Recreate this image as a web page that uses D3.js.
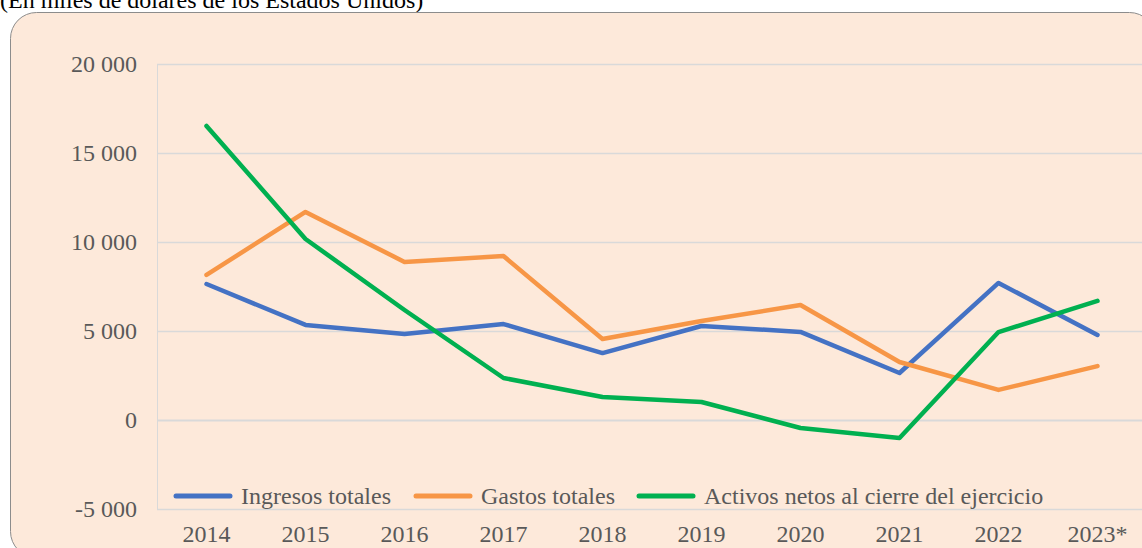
<!DOCTYPE html>
<html>
<head>
<meta charset="utf-8">
<script src="https://cdn.jsdelivr.net/npm/d3@7"></script>
<style>
  body { margin: 0; background: #fff; }
  text { font-family: "Liberation Serif", "Times New Roman", serif; fill: #595959; }
</style>
</head>
<body>
<div id="chart"></div>
<script>
// chart data
var years = ["2014", "2015", "2016", "2017", "2018", "2019", "2020", "2021", "2022", "2023*"];
var ingresos = [7640, 5340, 4830, 5390, 3760, 5280, 4950, 2640, 7700, 4780];
var gastos = [8150, 11690, 8880, 9210, 4550, 5560, 6460, 3260, 1690, 3030];
var activos = [16520, 10170, 6180, 2360, 1290, 1010, -450, -1010, 4940, 6690];
var yTicks = [-5000, 0, 5000, 10000, 15000, 20000];
var seriesNames = ["Ingresos totales", "Gastos totales", "Activos netos al cierre del ejercicio"];
var colors = ["#4472C4", "#F79646", "#00B050"];

var svgWidth = 1142;
var svgHeight = 548;

var svg = d3.select("#chart")
    .append("svg")
    .attr("width", svgWidth)
    .attr("height", svgHeight);

// title, mostly cut off at the top
svg.append("text")
    .attr("x", 0)
    .attr("y", 8)
    .style("font-size", "24px")
    .style("fill", "#000")
    .text("(En miles de dólares de los Estados Unidos)");

// rounded panel
svg.append("rect")
    .attr("x", 10.5)
    .attr("y", 12.5)
    .attr("width", 1145)
    .attr("height", 545)
    .attr("rx", 26)
    .attr("fill", "#FDE9DA")
    .attr("stroke", "#8C8C8C")
    .attr("stroke-width", 1);

// plot area
var plot = { left: 157, right: 1147, top: 64, bottom: 509 };

var xScale = d3.scaleBand()
    .domain(years)
    .range([plot.left, plot.right]);

var yScale = d3.scaleLinear()
    .domain([-5000, 20000])
    .range([plot.bottom, plot.top]);

// "20 000", "-5 000"
var fmt = function(d) {
    return d3.format(",")(d).replace(/,/g, " ").replace("\u2212", "-");
};

// gridlines
svg.append("g")
    .selectAll("line")
    .data(yTicks)
    .enter()
    .append("line")
    .attr("x1", plot.left)
    .attr("x2", plot.right)
    .attr("y1", d => Math.round(yScale(d)) + 0.5)
    .attr("y2", d => Math.round(yScale(d)) + 0.5)
    .attr("stroke", "#D9D9D9")
    .attr("stroke-width", d => d === 0 ? 2 : 1.3);

// left edge of plot area
svg.append("line")
    .attr("x1", plot.left + 0.5)
    .attr("x2", plot.left + 0.5)
    .attr("y1", plot.top)
    .attr("y2", plot.bottom)
    .attr("stroke", "#D9D9D9");

// y axis labels
var yAxis = svg.append("g")
    .attr("transform", `translate(${plot.left - 20}, 0)`)
    .call(d3.axisLeft(yScale).tickValues(yTicks).tickFormat(fmt).tickSize(0).tickPadding(0));
yAxis.select(".domain").remove();
yAxis.selectAll("text")
    .style("font-size", "24px")
    .style("font-family", "Liberation Serif, Times New Roman, serif")
    .attr("fill", "#595959");

// x axis labels
var xAxis = svg.append("g")
    .attr("transform", `translate(0, ${plot.bottom + 16})`)
    .call(d3.axisBottom(xScale).tickSize(0).tickPadding(0));
xAxis.select(".domain").remove();
xAxis.selectAll("text")
    .style("font-size", "24px")
    .style("font-family", "Liberation Serif, Times New Roman, serif")
    .attr("fill", "#595959");

// lines
var allSeries = [ingresos, gastos, activos];
var line = d3.line()
    .x((d, i) => xScale(years[i]) + xScale.bandwidth() / 2)
    .y(d => yScale(d));

svg.append("g")
    .selectAll("path")
    .data(allSeries)
    .enter()
    .append("path")
    .attr("d", d => line(d))
    .attr("fill", "none")
    .attr("stroke", (d, i) => colors[i])
    .attr("stroke-width", 4.5)
    .attr("stroke-linecap", "round")
    .attr("stroke-linejoin", "round");

// legend
var legendX = [176, 416, 639];
var legend = svg.append("g")
    .selectAll("g")
    .data(seriesNames)
    .enter()
    .append("g")
    .attr("transform", (d, i) => `translate(${legendX[i]}, 496)`);

legend.append("line")
    .attr("x1", 0)
    .attr("x2", 54)
    .attr("stroke", (d, i) => colors[i])
    .attr("stroke-width", 5)
    .attr("stroke-linecap", "round");

legend.append("text")
    .attr("x", 65)
    .attr("y", 8)
    .style("font-size", "24px")
    .text(d => d);
</script>
</body>
</html>
